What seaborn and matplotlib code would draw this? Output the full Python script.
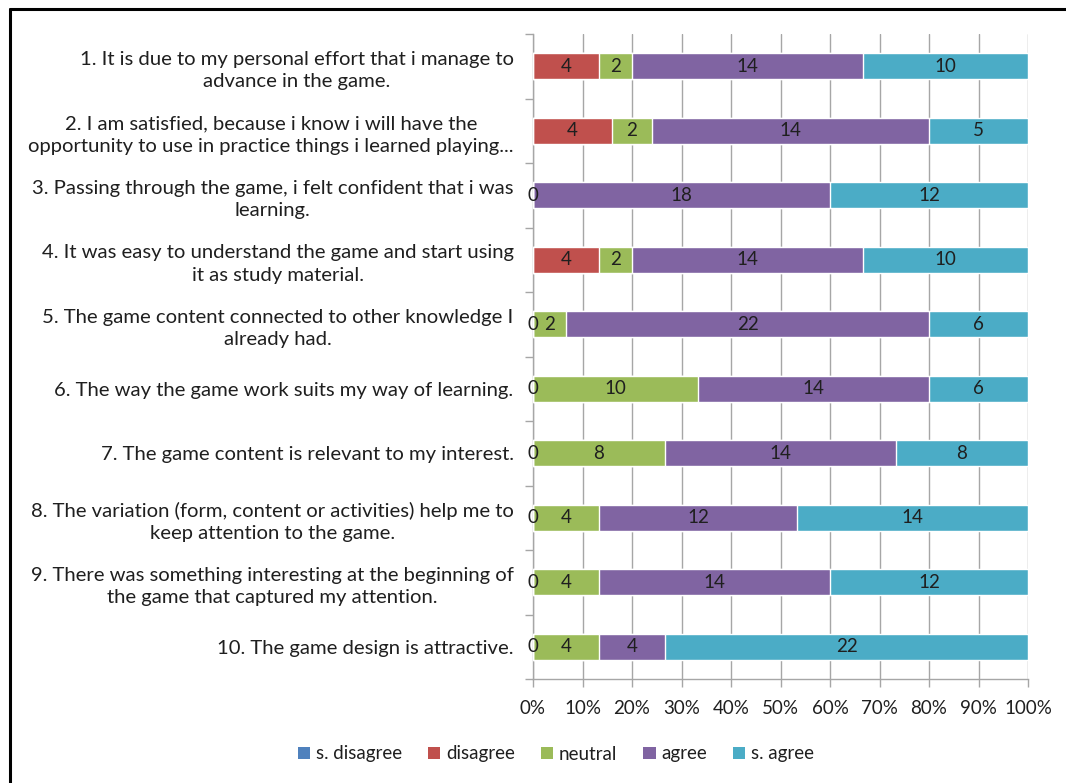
import numpy as np
import pandas as pd
import matplotlib
matplotlib.use("Agg")
import matplotlib.pyplot as plt
import seaborn as sns
from matplotlib.patches import Patch
from matplotlib.lines import Line2D

categories = [
    "1. It is due to my personal effort that i manage to\nadvance in the game.",
    "2. I am satisfied, because i know i will have the\nopportunity to use in practice things i learned playing...",
    "3. Passing through the game, i felt confident that i was\nlearning.",
    "4. It was easy to understand the game and start using\nit as study material.",
    "5. The game content connected to other knowledge I\nalready had.",
    "6. The way the game work suits my way of learning.",
    "7. The game content is relevant to my interest.",
    "8. The variation (form, content or activities) help me to\nkeep attention to the game.",
    "9. There was something interesting at the beginning of\nthe game that captured my attention.",
    "10. The game design is attractive.",
]
series_names = ["s. disagree", "disagree", "neutral", "agree", "s. agree"]
s_disagree = [np.nan] * 10
disagree = [4, 4, 0, 4, 0, 0, 0, 0, 0, 0]
neutral = [2, 2, np.nan, 2, 2, 10, 8, 4, 4, 4]
agree = [14, 14, 18, 14, 22, 14, 14, 12, 14, 4]
s_agree = [10, 5, 12, 10, 6, 6, 8, 14, 12, 22]
xtick_labels = ["0%", "10%", "20%", "30%", "40%", "50%", "60%", "70%", "80%", "90%", "100%"]

colors = ["#4F81BD", "#C0504D", "#9BBB59", "#8064A2", "#4BACC6"]

sns.set_theme(style="white")
plt.rcParams["font.family"] = ["Lato", "DejaVu Sans"]
text_color = "#1f1f1f"
fs = 13.5
fs_cat = 14.6

vals = np.array([s_disagree, disagree, neutral, agree, s_agree], dtype=float)
tot = np.nansum(vals, axis=0)
pct = np.where(np.isnan(vals), 0, vals) / tot * 100
cum = np.cumsum(pct, axis=0)
start = cum - pct

fig = plt.figure(figsize=(10.66, 7.83), dpi=100)
ax = fig.add_axes([533 / 1066, 1 - 679 / 783, (1028 - 533) / 1066, (679 - 34) / 783])

for i in range(len(series_names) - 1, -1, -1):
    df = pd.DataFrame({"category": categories, "cum": cum[i]})
    sns.barplot(data=df, x="cum", y="category", color=colors[i], orient="h",
                width=0.41, saturation=1, ax=ax, zorder=3)

for i in range(len(series_names)):
    for j in range(len(categories)):
        if np.isnan(vals[i, j]):
            continue
        xc = start[i, j] + pct[i, j] / 2
        ax.text(xc, j, f"{int(vals[i, j])}", ha="center", va="center",
                fontsize=fs, color=text_color, zorder=5)

ax.set_xlim(0, 100)
ax.set_ylim(9.5, -0.5)
ax.set_xticks(np.arange(0, 101, 10))
ax.set_xticklabels(xtick_labels, fontsize=fs, color=text_color)
ax.set_xlabel("")
ax.set_ylabel("")
ax.grid(axis="x", color="#a6a6a6", linewidth=1, zorder=0)
ax.set_axisbelow(True)

for s in ["top", "right"]:
    ax.spines[s].set_visible(False)
for s in ["left", "bottom"]:
    ax.spines[s].set_color("#a6a6a6")
    ax.spines[s].set_linewidth(1)

ax.set_yticks(range(len(categories)))
ax.set_yticklabels(categories, fontsize=fs_cat, color=text_color)
for lab in ax.get_yticklabels():
    lab.set_multialignment("center")
    lab.set_linespacing(1.4)
ax.set_yticks(np.arange(-0.5, 10, 1), minor=True)
ax.tick_params(axis="y", which="major", length=0, pad=14)
ax.tick_params(axis="y", which="minor", length=6, width=1, color="#a6a6a6", left=True)
ax.tick_params(axis="x", which="major", length=6, width=1, color="#a6a6a6", bottom=True, pad=9)

handles = [Patch(facecolor=c, edgecolor="none") for c in colors]
fig.legend(handles, series_names, loc="center", bbox_to_anchor=(556 / 1066, 1 - 754 / 783),
           ncol=5, frameon=False, fontsize=fs, handlelength=0.65, handleheight=0.65,
           handletextpad=0.3, columnspacing=1.4, labelcolor=text_color)

fig.add_artist(Line2D([10 / 1066, 1.0], [1 - 9 / 783, 1 - 9 / 783], transform=fig.transFigure,
                      color="black", linewidth=2.2))
fig.add_artist(Line2D([10 / 1066, 10 / 1066], [0, 1 - 9 / 783], transform=fig.transFigure,
                      color="black", linewidth=2.2))

fig.savefig("out.png", dpi=100)
